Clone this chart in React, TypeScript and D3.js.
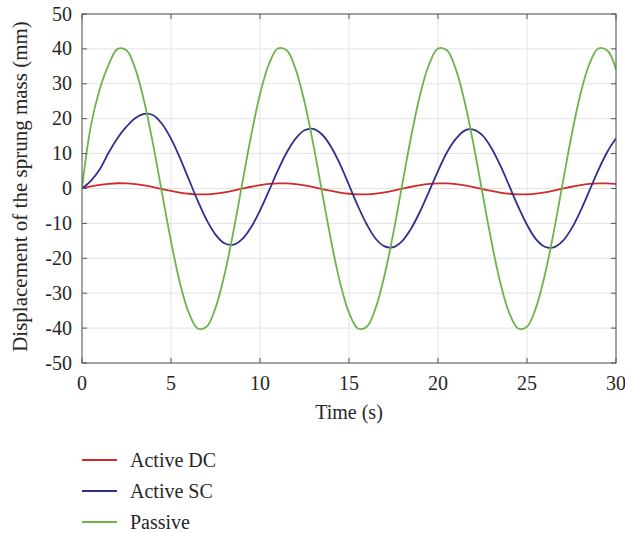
import React from "react";
import * as d3 from "d3";

const times: number[] = d3.range(0, 30.0001, 0.5).map((v) => +v.toFixed(2));

const activeDC: number[] = [
  0, 0.6, 1.05, 1.35, 1.5,
  1.46, 1.26, 0.89, 0.39, -0.16, -0.7, -1.17, -1.51, -1.68, -1.66, -1.46, -1.09, -0.59, -0.04, 0.5, 0.97, 1.31, 1.48,
  1.46, 1.26, 0.89, 0.39, -0.16, -0.7, -1.17, -1.51, -1.68, -1.66, -1.46, -1.09, -0.59, -0.04, 0.5, 0.97, 1.31, 1.48,
  1.46, 1.26, 0.89, 0.39, -0.16, -0.7, -1.17, -1.51, -1.68, -1.66, -1.46, -1.09, -0.59, -0.04, 0.5, 0.97, 1.31, 1.48,
  1.46, 1.3,
];

const activeSC: number[] = [
  0, 2.2, 5.5, 10.3, 14.5, 17.7, 20.2, 21.4, 21.0, 18.5, 14.3, 8.8, 2.65, -3.5, -9.0, -13.2, -15.7, -16.1,
  -14.5, -11.1, -6.3, -0.7, 5.1, 10.3, 14.3, 16.7, 17.1, 15.4, 11.9, 6.9, 1.0, -5.0, -10.3, -14.4, -16.6,
  -16.8, -15.0, -11.4, -6.5, -0.8, 5.0, 10.3, 14.2, 16.6, 16.9, 15.2, 11.6, 6.6, 0.8, -5.1, -10.4, -14.5,
  -16.7, -16.9, -15.1, -11.5, -6.5, -0.7, 5.2, 10.4, 14.4,
];

const passive: number[] = [
  0, 18, 28.5, 35.5, 40.0,
  39.6, 34.2, 24.8, 12.5, -1.4, -15.1, -27.0, -35.6, -40.1, -39.6, -34.2, -24.8, -12.5, 1.4, 15.1, 27.0, 35.6, 40.1,
  39.6, 34.2, 24.8, 12.5, -1.4, -15.1, -27.0, -35.6, -40.1, -39.6, -34.2, -24.8, -12.5, 1.4, 15.1, 27.0, 35.6, 40.1,
  39.6, 34.2, 24.8, 12.5, -1.4, -15.1, -27.0, -35.6, -40.1, -39.6, -34.2, -24.8, -12.5, 1.4, 15.1, 27.0, 35.6, 40.1,
  39.6, 34.2,
];

const xTicks: number[] = [0, 5, 10, 15, 20, 25, 30];
const yTicks: number[] = [-50, -40, -30, -20, -10, 0, 10, 20, 30, 40, 50];

const seriesNames: string[] = ["Active DC", "Active SC", "Passive"];
const seriesColors: string[] = ["#d02b2b", "#2f2f8c", "#6db34c"];

const W = 625;
const H = 533;
const M = { left: 82, right: 616, top: 14, bottom: 363 };
const FONT = "'Liberation Serif', 'Times New Roman', serif";
const TEXT = "#262626";

export default function App() {
  const x = d3.scaleLinear().domain([0, 30]).range([M.left, M.right]);
  const y = d3.scaleLinear().domain([-50, 50]).range([M.bottom, M.top]);
  const line = d3
    .line<number>()
    .x((_, i) => x(times[i]))
    .y((d) => y(d))
    .curve(d3.curveCatmullRom.alpha(0.5));
  const data = [activeDC, activeSC, passive];
  const order = [0, 1, 2];
  const tl = 5;

  return (
    <svg
      width={W}
      height={H}
      style={{ position: "absolute", left: 0, top: 0, background: "#fff" }}
      fontFamily={FONT}
    >
      <defs>
        <clipPath id="plotclip">
          <rect x={M.left} y={M.top} width={M.right - M.left} height={M.bottom - M.top} />
        </clipPath>
      </defs>
      <g stroke="#e3e3e3" strokeWidth={1}>
        {xTicks.map((t) => (
          <line key={"gx" + t} x1={x(t)} x2={x(t)} y1={M.top} y2={M.bottom} />
        ))}
        {yTicks.map((t) => (
          <line key={"gy" + t} x1={M.left} x2={M.right} y1={y(t)} y2={y(t)} />
        ))}
      </g>
      <g clipPath="url(#plotclip)" fill="none">
        {order.map((k) => (
          <path key={k} d={line(data[k]) || ""} stroke={seriesColors[k]} strokeWidth={1.8} />
        ))}
      </g>
      <g stroke="#555" strokeWidth={1} fill="none">
        <rect x={M.left} y={M.top} width={M.right - M.left} height={M.bottom - M.top} />
        {xTicks.map((t) => (
          <g key={"tx" + t}>
            <line x1={x(t)} x2={x(t)} y1={M.bottom} y2={M.bottom - tl} />
            <line x1={x(t)} x2={x(t)} y1={M.top} y2={M.top + tl} />
          </g>
        ))}
        {yTicks.map((t) => (
          <g key={"ty" + t}>
            <line x1={M.left} x2={M.left + tl} y1={y(t)} y2={y(t)} />
            <line x1={M.right} x2={M.right - tl} y1={y(t)} y2={y(t)} />
          </g>
        ))}
      </g>
      <g fill={TEXT} fontSize={20}>
        {xTicks.map((t) => (
          <text key={"lx" + t} x={x(t)} y={M.bottom + 27} textAnchor="middle">
            {t}
          </text>
        ))}
        {yTicks.map((t) => (
          <text key={"ly" + t} x={M.left - 10} y={y(t) + 6.5} textAnchor="end">
            {t}
          </text>
        ))}
      </g>
      <text x={(M.left + M.right) / 2} y={419} textAnchor="middle" fontSize={20} fill={TEXT}>
        Time (s)
      </text>
      <text
        transform={`translate(27, ${(15 + 358) / 2}) rotate(-90)`}
        textAnchor="middle"
        fontSize={21}
        fill={TEXT}
      >
        Displacement of the sprung mass (mm)
      </text>
      {seriesNames.map((n, i) => (
        <g key={n} transform={`translate(0, ${460 + i * 31})`}>
          <line x1={82} x2={117} y1={0} y2={0} stroke={seriesColors[i]} strokeWidth={2} />
          <text x={130} y={6.5} fontSize={20} fill={TEXT}>
            {n}
          </text>
        </g>
      ))}
    </svg>
  );
}
